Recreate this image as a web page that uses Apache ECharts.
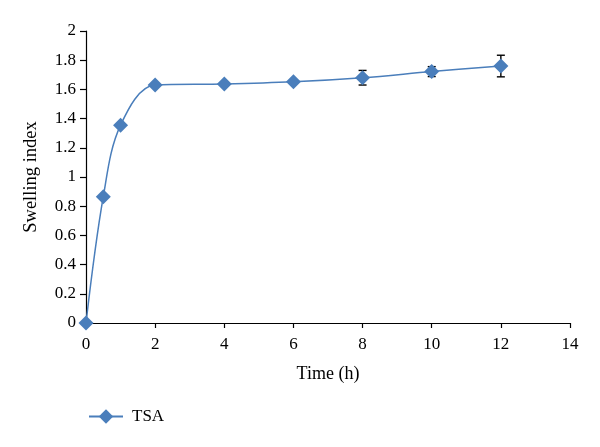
<!DOCTYPE html>
<html><head><meta charset="utf-8">
<script src="https://cdn.jsdelivr.net/npm/echarts@6/dist/echarts.min.js"></script>
<style>html,body{margin:0;padding:0;background:#fff}#c{width:600px;height:447px}</style>
</head><body><div id="c"></div>
<script>
var times = [0, 0.5, 1, 2, 4, 6, 8, 10, 12];
var swelling = [0, 0.865, 1.355, 1.63, 1.637, 1.652, 1.68, 1.722, 1.76];
var errors = [0, 0, 0, 0, 0, 0, 0.05, 0.034, 0.074];
var xTicks = [0, 2, 4, 6, 8, 10, 12, 14];
var yTicks = [0, 0.2, 0.4, 0.6, 0.8, 1, 1.2, 1.4, 1.6, 1.8, 2];
var seriesName = 'TSA';

var lineData = times.map(function (t, i) { return [t, swelling[i]]; });
var errData = times.map(function (t, i) { return [t, swelling[i] - errors[i], swelling[i] + errors[i]]; })
  .filter(function (d, i) { return errors[i] > 0; });
var font = 'Liberation Serif';
var fs = 17;
var chart = echarts.init(document.getElementById('c'));
chart.setOption({
  animation: false,
  grid: { left: 86, right: 30, top: 31, bottom: 124 },
  legend: {
    left: 83, top: 403, itemWidth: 34, itemHeight: 18, itemGap: 10,
    textStyle: { fontFamily: font, fontSize: fs, color: '#000', padding: [0, 0, 0, 4] },
    data: [seriesName]
  },
  xAxis: {
    type: 'value', min: xTicks[0], max: xTicks[xTicks.length - 1], interval: 2,
    name: 'Time (h)', nameLocation: 'middle', nameGap: 42,
    nameTextStyle: { fontFamily: font, fontSize: 18, color: '#000' },
    axisLine: { lineStyle: { color: '#000', width: 1.2 } },
    axisTick: { length: 5, lineStyle: { color: '#000', width: 1.2 } },
    axisLabel: { fontFamily: font, fontSize: fs, color: '#000', margin: 13 },
    splitLine: { show: false }
  },
  yAxis: {
    type: 'value', min: yTicks[0], max: yTicks[yTicks.length - 1], interval: 0.2,
    name: 'Swelling index', nameLocation: 'middle', nameGap: 45, nameRotate: 90,
    nameTextStyle: { fontFamily: font, fontSize: 18.5, color: '#000' },
    axisLine: { show: true, lineStyle: { color: '#000', width: 1.2 } },
    axisTick: { show: true, length: 6, lineStyle: { color: '#000', width: 1.2 } },
    axisLabel: { fontFamily: font, fontSize: fs, color: '#000', margin: 10,
      formatter: function (v) { return String(Math.round(v * 10) / 10); } },
    splitLine: { show: false }
  },
  series: [
    {
      type: 'custom', name: 'err', data: errData, z: 1,
      renderItem: function (params, api) {
        var x = api.value(0);
        var lo = api.coord([x, api.value(1)]);
        var hi = api.coord([x, api.value(2)]);
        var w = 4;
        var st = { stroke: '#000', lineWidth: 1.4 };
        return { type: 'group', children: [
          { type: 'line', shape: { x1: lo[0], y1: lo[1], x2: hi[0], y2: hi[1] }, style: st },
          { type: 'line', shape: { x1: lo[0] - w, y1: lo[1], x2: lo[0] + w, y2: lo[1] }, style: st },
          { type: 'line', shape: { x1: hi[0] - w, y1: hi[1], x2: hi[0] + w, y2: hi[1] }, style: st }
        ] };
      }
    },
    {
      name: seriesName, type: 'line', data: lineData, smooth: 0.35,
      symbol: 'diamond', symbolSize: 15,
      lineStyle: { color: '#4a7ebb', width: 1.5 },
      itemStyle: { color: '#4a7ebb' }, z: 2
    }
  ]
});
</script></body></html>
